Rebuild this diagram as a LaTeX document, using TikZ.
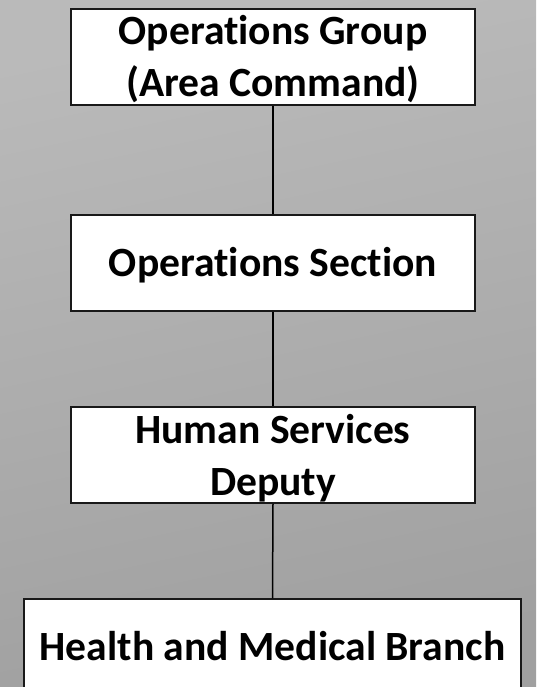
\documentclass[tikz,border=0pt]{standalone}
\usepackage{fontspec}
\setmainfont{Carlito}[Ligatures=NoCommon]
\usepackage{tikz}
\definecolor{bglight}{RGB}{186,186,186}
\definecolor{bgdark}{RGB}{160,160,160}
\tikzset{
	orgbox/.style={draw=black!90, line width=1.5pt, fill=white, inner sep=0pt,
		minimum width=404pt, minimum height=96pt, align=center,
		font=\fontsize{41.6}{52}\selectfont\bfseries},
	twoline/.style={text height=88pt, text depth=8pt},
	oneline/.style={text height=61pt, text depth=35pt},
	link/.style={line width=1.5pt, color=black}
}

\begin{document}
\begin{tikzpicture}[x=1pt, y=1pt]
			%%%%% START %%%%%
			
			\useasboundingbox (0, 0) rectangle (536, -687);
			\shade[top color=bglight, bottom color=bgdark, shading angle=12] (0, 0) rectangle (536, -687);
			
			\node[orgbox, twoline] (group) at (273, -57) {Operations Group\\(Area Command)};
			\node[orgbox, oneline] (section) at (273, -263) {Operations Section};
			\node[orgbox, twoline] (deputy) at (273, -455) {Human Services\\Deputy};
			\node[orgbox, oneline, minimum width=497pt] (branch) at (272.5, -647) {Health and Medical Branch};
			
			\draw[link] (group.south) -- (section.north);
			\draw[link] (section.south) -- (deputy.north);
			\draw[link] (deputy.south) -- (branch.north);
			
			%%%%% END %%%%%
\end{tikzpicture}
\end{document}
